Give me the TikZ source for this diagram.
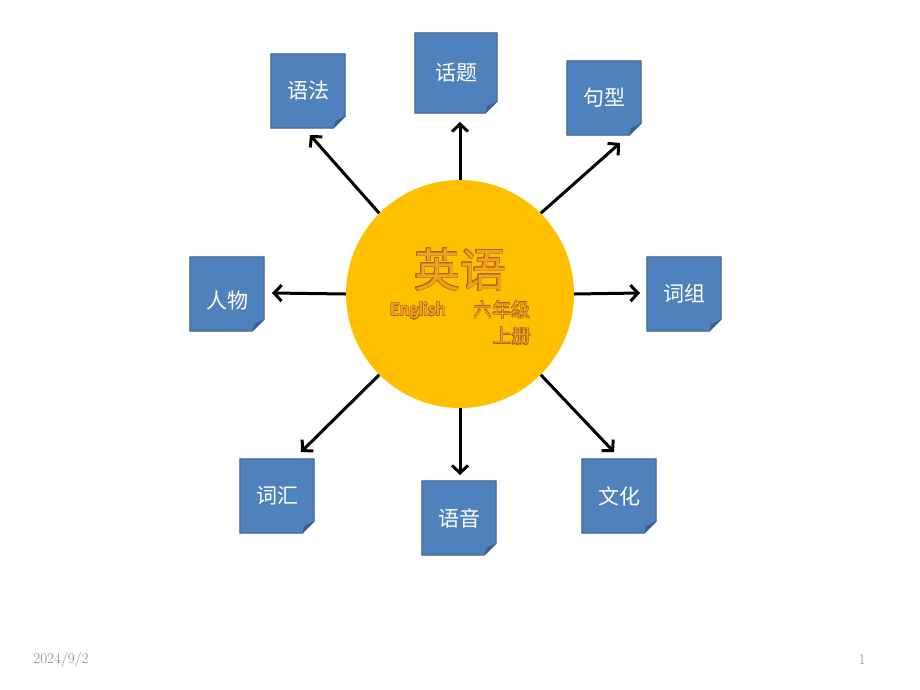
\documentclass[tikz,border=0pt]{standalone}
\usepackage{fontspec}
\usepackage{contour}
\newfontfamily\cjk{Noto Sans CJK SC}
\newfontfamily\carlito{Carlito}
\usetikzlibrary{arrows.meta,backgrounds}
\definecolor{sunfill}{RGB}{255,192,0}
\definecolor{boxblue}{RGB}{79,129,189}
\definecolor{boxedge}{RGB}{56,93,138}
\definecolor{foldblue}{RGB}{58,96,142}
\definecolor{titlefill}{RGB}{242,162,30}
\definecolor{titleedge}{RGB}{178,98,22}
\definecolor{footgray}{RGB}{137,137,137}
\contourlength{0.5pt}
\begin{document}
\begin{tikzpicture}[x=1pt,y=-1pt,
    sun/.style={circle,fill=sunfill,minimum size=228pt,inner sep=0pt},
    title/.style={inner sep=0pt,text=titlefill,font=\cjk\fontsize{46}{46}\selectfont},
    subtitle/.style={inner sep=0pt,text=titlefill,font=\cjk\fontsize{19}{19}\selectfont},
    box/.style={minimum width=74pt,minimum height=74pt,inner sep=0pt,text=white,
      font=\cjk\fontsize{21}{21}\selectfont},
    boxshape/.style={fill=boxblue,draw=boxedge,line width=1pt},
    link/.style={line width=3pt,-{Straight Barb[length=7.5pt,width=16pt]}},
    foot/.style={inner sep=0pt,text=footgray,font=\fontsize{15}{15}\selectfont}]
  \useasboundingbox (0,0) rectangle (920,690);
  % centre
  \node[sun] (c) at (460,294) {};
  \node[title] (t) at (460,270) {\contour{titleedge}{英语}};
  \node[subtitle,font=\carlito\bfseries\fontsize{19}{19}\selectfont] (en) at (418,311)
    {\contourlength{0.35pt}\contour{titleedge}{English}};
  \node[subtitle] (g6) at (502,310) {\contourlength{0.35pt}\contour{titleedge}{六年级}};
  \node[subtitle] (g6b) at (512,336) {\contourlength{0.35pt}\contour{titleedge}{上册}};
  % boxes
  \node[box] (yf) at (308,91) {语法};
  \node[box,minimum width=82pt,minimum height=80pt] (ht) at (456,73) {话题};
  \node[box] (jx) at (604,98) {句型};
  \node[box,text height=30pt] (rw) at (227,294) {人物};
  \node[box] (cz) at (684,294) {词组};
  \node[box] (ch) at (277,496) {词汇};
  \node[box] (yy) at (459,518) {语音};
  \node[box] (wh) at (619,496) {文化};
  \begin{scope}[on background layer]
    \foreach \n in {yf,ht,jx,rw,cz,ch,yy,wh}{
      \path[boxshape] (\n.north west) -- (\n.north east) -- ([yshift=12pt]\n.south east)
        -- ([xshift=-12pt]\n.south east) -- (\n.south west) -- cycle;
      \fill[foldblue] ([yshift=12pt]\n.south east) -- ([xshift=-12pt]\n.south east)
        -- ([xshift=-10pt,yshift=7pt]\n.south east) -- cycle;
    }
  \end{scope}
  % arrow tips
  \coordinate (yf-tip) at (310,135);
  \coordinate (ht-tip) at (460,122);
  \coordinate (jx-tip) at (620,143);
  \coordinate (rw-tip) at (272,293);
  \coordinate (cz-tip) at (640,293);
  \coordinate (ch-tip) at (301,452);
  \coordinate (yy-tip) at (460,475);
  \coordinate (wh-tip) at (614,452);
  \draw[link] (c.135) -- (yf-tip);
  \draw[link] (c.90) -- (ht-tip);
  \draw[link] (c.45) -- (jx-tip);
  \draw[link] (c.180) -- (rw-tip);
  \draw[link] (c.0) -- (cz-tip);
  \draw[link] (c.225) -- (ch-tip);
  \draw[link] (c.270) -- (yy-tip);
  \draw[link] (c.315) -- (wh-tip);
  % footer
  \node[foot] (date) at (61,660) {2024/9/2};
  \node[foot] (page) at (862,660) {1};
\end{tikzpicture}
\end{document}
